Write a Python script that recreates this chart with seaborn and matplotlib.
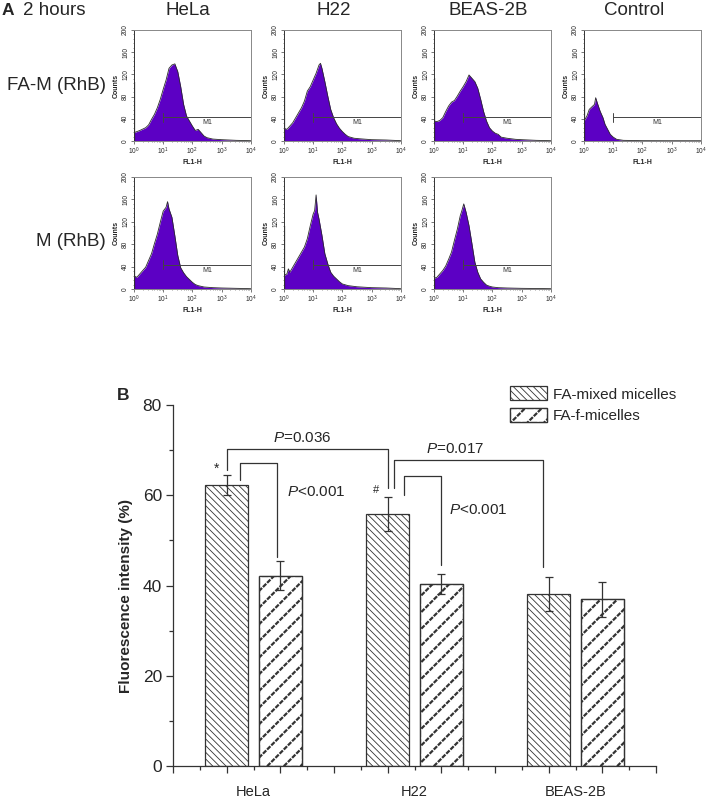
import matplotlib
matplotlib.use("Agg")
import pandas as pd
import matplotlib.pyplot as plt
import matplotlib.patches as mpatches
from matplotlib.ticker import MultipleLocator, LogLocator, NullFormatter, FixedLocator
import seaborn as sns

# ---- panel A: flow cytometry histograms (log10 FL1-H position, counts) ----
hela_fam_log = [0, 0.2, 0.4, 0.5, 0.6, 0.7, 0.8, 0.9, 1.0, 1.1, 1.2, 1.3, 1.4, 1.5,
                1.6, 1.7, 1.8, 1.9, 2.0, 2.1, 2.2, 2.3, 2.4, 2.5, 2.7, 3.0, 3.5, 4.0]
hela_fam_cnt = [15, 19, 24, 29, 39, 48, 60, 75, 93, 110, 131, 137, 139, 125,
                98, 66, 45, 36, 27, 19, 21, 15, 9, 6, 3.5, 2.4, 1.2, 0.6]

h22_fam_log = [0, 0.1, 0.2, 0.3, 0.4, 0.5, 0.6, 0.7, 0.8, 0.9, 1.0, 1.1, 1.2, 1.25, 1.3,
               1.4, 1.5, 1.6, 1.7, 1.8, 1.9, 2.0, 2.1, 2.2, 2.4, 2.6, 3.0, 3.5, 4.0]
h22_fam_cnt = [23, 21, 27, 33, 42, 51, 60, 72, 90, 98, 110, 122, 137, 140, 131,
               107, 81, 57, 42, 31, 23, 17, 12, 8, 5, 4, 2.4, 1.8, 0.6]

beas_fam_log = [0, 0.1, 0.2, 0.3, 0.4, 0.5, 0.6, 0.7, 0.8, 0.9, 1.0, 1.1, 1.2, 1.3, 1.4,
                1.5, 1.6, 1.7, 1.8, 1.9, 2.0, 2.1, 2.2, 2.3, 2.5, 2.8, 3.0, 3.5, 4.0]
beas_fam_cnt = [36, 35, 37, 42, 53, 63, 70, 73, 81, 90, 98, 107, 119, 113, 107,
                95, 75, 53, 36, 24, 18, 14, 12, 7, 5, 3, 2.4, 1.2, 0.6]

ctrl_log = [0, 0.1, 0.18, 0.3, 0.36, 0.4, 0.46, 0.55, 0.65, 0.72, 0.8, 0.9, 1.0,
            1.12, 1.35, 2.0, 3.0, 4.0]
ctrl_cnt = [36, 45, 57, 63, 66, 78, 68, 54, 42, 30, 22, 12, 7, 3, 1.2, 0.6, 0.5, 0.5]

hela_m_log = [0, 0.1, 0.2, 0.3, 0.4, 0.5, 0.6, 0.7, 0.8, 0.9, 1.0, 1.1, 1.15, 1.2, 1.3,
              1.4, 1.5, 1.6, 1.7, 1.8, 1.9, 2.0, 2.1, 2.2, 2.4, 2.7, 3.0, 3.5, 4.0]
hela_m_cnt = [23, 21, 27, 33, 39, 51, 63, 81, 98, 119, 139, 146, 156, 143, 128,
              95, 60, 38, 29, 22, 17, 12, 8, 6, 3.6, 2.4, 1.8, 1.2, 0.6]

h22_m_log = [0, 0.1, 0.15, 0.2, 0.3, 0.4, 0.5, 0.6, 0.7, 0.8, 0.9, 1.0, 1.05, 1.1, 1.15,
             1.2, 1.3, 1.4, 1.5, 1.6, 1.7, 1.8, 1.9, 2.0, 2.2, 2.5, 3.0, 3.5, 4.0]
h22_m_cnt = [24, 27, 36, 30, 39, 48, 57, 66, 75, 90, 113, 134, 140, 168, 137,
             125, 96, 63, 45, 30, 23, 18, 13, 9, 6, 4, 2.4, 1.8, 0.6]

beas_m_log = [0, 0.1, 0.2, 0.3, 0.4, 0.5, 0.6, 0.7, 0.8, 0.9, 0.95, 1.02, 1.1, 1.2,
              1.3, 1.4, 1.5, 1.6, 1.7, 1.8, 1.9, 2.0, 2.2, 2.5, 3.0, 4.0]
beas_m_cnt = [19, 21, 27, 33, 41, 53, 66, 87, 107, 131, 139, 152, 137, 113,
              81, 48, 30, 18, 12, 7, 5, 3.6, 2.4, 1.8, 1.2, 0.6]

# pile-up in the first channel
first_channel = [107, 110, 113, 113, 113, 112, 106]
m1_gate = [10, 10000]
m1_level = 43

col_titles = ["HeLa", "H22", "BEAS-2B", "Control"]
row_titles = ["FA-M (RhB)", "M (RhB)"]

# ---- panel B: fluorescence intensity ----
cells = ["HeLa", "H22", "BEAS-2B"]
series = ["FA-mixed micelles", "FA-f-micelles"]
mixed_mean = [62.3, 55.8, 38.1]
mixed_sd = [2.2, 3.8, 3.7]
f_mean = [42.2, 40.4, 36.9]
f_sd = [3.3, 2.2, 3.9]

sns.set_style("ticks")
plt.rcParams["font.family"] = ["Liberation Sans", "DejaVu Sans"]
plt.rcParams["mathtext.fontset"] = "custom"
plt.rcParams["mathtext.rm"] = "Liberation Sans"
plt.rcParams["mathtext.it"] = "Liberation Sans:italic"
plt.rcParams["hatch.linewidth"] = 0.6

W, H = 711, 802
fig = plt.figure(figsize=(W / 100, H / 100), dpi=100)


def px_axes(left, top, right, bottom):
    return fig.add_axes([left / W, 1 - bottom / H, (right - left) / W, (bottom - top) / H])


def fig_text(x, y, s, **kw):
    fig.text(x / W, 1 - y / H, s, **kw)


PURPLE = "#5c00c4"


def draw_hist(ax, logs, counts, spike):
    xs = [10 ** v for v in logs]
    ax.set_xscale("log")
    ax.fill_between(xs, counts, color=PURPLE, lw=0)
    sns.lineplot(x=xs, y=counts, ax=ax, color="#2b2b2b", lw=0.6)
    ax.vlines(1.0, 0, spike, color="#111111", lw=1.6)
    ax.plot(m1_gate, [m1_level, m1_level], color="#444444", lw=0.7)
    ax.plot([m1_gate[0]] * 2, [m1_level - 8, m1_level + 8], color="#444444", lw=0.7)
    ax.text(10 ** 2.52, m1_level - 3, "M1", fontsize=5, ha="center", va="top", color="#333333")
    ax.set_xlim(1, 1e4)
    ax.set_ylim(0, 200)
    ax.set_xticks([1, 10, 100, 1000, 10000],
                  labels=[r"$10^{0}$", r"$10^{1}$", r"$10^{2}$", r"$10^{3}$", r"$10^{4}$"])
    ax.xaxis.set_minor_locator(LogLocator(base=10, subs=range(2, 10)))
    ax.xaxis.set_minor_formatter(NullFormatter())
    ax.set_yticks([0, 40, 80, 120, 160, 200])
    ax.yaxis.set_minor_locator(MultipleLocator(8))
    ax.tick_params(axis="both", which="major", labelsize=4.8, length=2, width=0.5,
                   pad=1.5, direction="out", color="#444444")
    ax.tick_params(axis="both", which="minor", length=1, width=0.4, direction="out",
                   color="#444444")
    for lab in ax.get_yticklabels():
        lab.set_rotation(90)
        lab.set_va("center")
    ax.set_xlabel("FL1-H", fontsize=5, fontweight="bold", labelpad=1)
    ax.set_ylabel("Counts", fontsize=5, fontweight="bold", labelpad=1.5)
    for sp in ax.spines.values():
        sp.set_color("#888888")
        sp.set_linewidth(0.7)
    ax.spines["left"].set_color("#333333")


col_left = [134, 284, 434, 584]
row_span = [(30, 141), (177, 289)]
panels = [
    (0, 0, hela_fam_log, hela_fam_cnt, first_channel[0]),
    (0, 1, h22_fam_log, h22_fam_cnt, first_channel[1]),
    (0, 2, beas_fam_log, beas_fam_cnt, first_channel[2]),
    (0, 3, ctrl_log, ctrl_cnt, first_channel[3]),
    (1, 0, hela_m_log, hela_m_cnt, first_channel[4]),
    (1, 1, h22_m_log, h22_m_cnt, first_channel[5]),
    (1, 2, beas_m_log, beas_m_cnt, first_channel[6]),
]
for r, c, lg, ct, sp in panels:
    top, bot = row_span[r]
    ax = px_axes(col_left[c], top, col_left[c] + 116.7, bot)
    draw_hist(ax, lg, ct, sp)

fig_text(2, 10.5, "A", fontsize=12.5, fontweight="bold", va="center", ha="left")
fig_text(23, 10.5, "2 hours", fontsize=13.5, va="center", ha="left")
for x, t in zip([187.5, 334, 488, 634], col_titles):
    fig_text(x, 10.5, t, fontsize=13.5, ha="center", va="center")
fig_text(106, 86, row_titles[0], fontsize=13.5, ha="right", va="center")
fig_text(106, 242, row_titles[1], fontsize=13.5, ha="right", va="center")

# ---- panel B ----
axb = px_axes(173, 405, 656, 766)
df = pd.DataFrame({
    "cell": cells * 2,
    "series": [series[0]] * 3 + [series[1]] * 3,
    "value": mixed_mean + f_mean,
})
sns.barplot(data=df, x="cell", y="value", hue="series", order=cells, hue_order=series,
            palette=["white", "white"], saturation=1, width=2 / 3, gap=0.2,
            errorbar=None, edgecolor="#333333", linewidth=0.9, legend=False, ax=axb)

bars = sorted(axb.patches, key=lambda p: p.get_x())
centers = [p.get_x() + p.get_width() / 2 for p in bars]
heights = [p.get_height() for p in bars]
sds = [v for pair in zip(mixed_sd, f_sd) for v in pair]

HATCH_MIXED = "\\\\\\\\\\"
HATCH_F = "//"
HATCH_GAP = "\\\\\\\\"


def set_hatch_lw(art):
    # thick stripes for FA-f bars, thin white cuts for the dotted look
    if not hasattr(art, "set_hatch_linewidth"):
        return
    if art.get_hatch() == HATCH_F:
        art.set_hatch_linewidth(1.6)
    elif art.get_hatch() == HATCH_GAP:
        art.set_hatch_linewidth(0.9)


def dotted_overlay(x, y, w, h, z):
    gap = mpatches.Rectangle((x, y), w, h, fill=False, edgecolor="white", lw=0,
                             hatch=HATCH_GAP, zorder=z + 0.1)
    set_hatch_lw(gap)
    edge = mpatches.Rectangle((x, y), w, h, fill=False, edgecolor="#333333", lw=0.9,
                              zorder=z + 0.2)
    return gap, edge


for i, p in enumerate(bars):
    if i % 2 == 0:
        p.set_hatch(HATCH_MIXED)
    else:
        p.set_hatch(HATCH_F)
        set_hatch_lw(p)
        for art in dotted_overlay(p.get_x(), 0, p.get_width(), p.get_height(), p.get_zorder()):
            axb.add_patch(art)

axb.errorbar(centers, heights, yerr=sds, fmt="none", ecolor="#333333",
             elinewidth=0.9, capsize=2.8, capthick=0.9, zorder=4)


def bracket(x1, y1, x2, y2, top):
    axb.plot([x1, x1, x2, x2], [y1, top, top, y2], color="#333333", lw=0.9)


bracket(centers[0], 65.6, centers[2], 61.6, 70.3)
bracket(centers[0] + 0.08, 63.4, centers[1] - 0.023, 46.3, 67.2)
bracket(centers[2] + 0.04, 61.6, centers[4] - 0.033, 44.1, 67.8)
bracket(centers[2] + 0.103, 60.1, centers[3], 44.6, 64.3)

axb.text(0.303, 72.7, r"$P$=0.036", fontsize=11, ha="center", va="center")
axb.text(0.21, 60.8, r"$P$<0.001", fontsize=11, ha="left", va="center")
axb.text(1.25, 70.3, r"$P$=0.017", fontsize=11, ha="center", va="center")
axb.text(1.213, 56.7, r"$P$<0.001", fontsize=11, ha="left", va="center")
axb.text(-0.23, 65.8, "*", fontsize=10, ha="center", va="center")
axb.text(0.76, 61.2, "#", fontsize=8, ha="center", va="center")

axb.set_xlim(-0.5, 2.5)
axb.set_ylim(0, 80)
axb.xaxis.set_major_locator(FixedLocator([-0.5 + k / 3 for k in range(10)]))
axb.xaxis.set_minor_locator(FixedLocator([-0.5 + (k + 0.5) / 3 for k in range(9)]))
axb.xaxis.set_major_formatter(NullFormatter())
axb.set_yticks([0, 20, 40, 60, 80])
axb.yaxis.set_minor_locator(MultipleLocator(10))
axb.tick_params(axis="both", which="major", direction="out", length=5, width=0.9,
                color="#333333", labelsize=12.5, pad=3)
axb.tick_params(axis="both", which="minor", direction="out", length=3, width=0.9,
                color="#333333")
for i, t in enumerate(cells):
    axb.text(i, -0.0734, t, transform=axb.get_xaxis_transform(), ha="center",
             va="center", fontsize=10.5)
axb.set_xlabel("")
axb.set_ylabel("Fluorescence intensity (%)", fontsize=11, fontweight="bold")
axb.yaxis.set_label_coords(-0.082, 0.472)
sns.despine(ax=axb)
for sp in ["left", "bottom"]:
    axb.spines[sp].set_color("#333333")
    axb.spines[sp].set_linewidth(0.9)

leg_mixed = mpatches.Patch(facecolor="white", edgecolor="#333333", lw=0.9,
                           hatch=HATCH_MIXED, label=series[0])
leg_f = mpatches.Patch(facecolor="white", edgecolor="#333333", lw=0.9, hatch=HATCH_F)
leg_gap = mpatches.Patch(fill=False, edgecolor="white", lw=0, hatch=HATCH_GAP)
leg_edge = mpatches.Patch(fill=False, edgecolor="#333333", lw=0.9)
leg = axb.legend(handles=[leg_mixed, (leg_f, leg_gap, leg_edge)], labels=series,
                 loc="upper left", bbox_to_anchor=(0.698, 1.052),
                 frameon=False, fontsize=11, borderpad=0, borderaxespad=0,
                 handlelength=2.4, handleheight=1.05, handletextpad=0.4, labelspacing=0.4)
for art in leg.findobj(mpatches.Rectangle):
    set_hatch_lw(art)

fig_text(117, 395, "B", fontsize=12.5, fontweight="bold", ha="left", va="center")

fig.savefig("out.png", dpi=100)
